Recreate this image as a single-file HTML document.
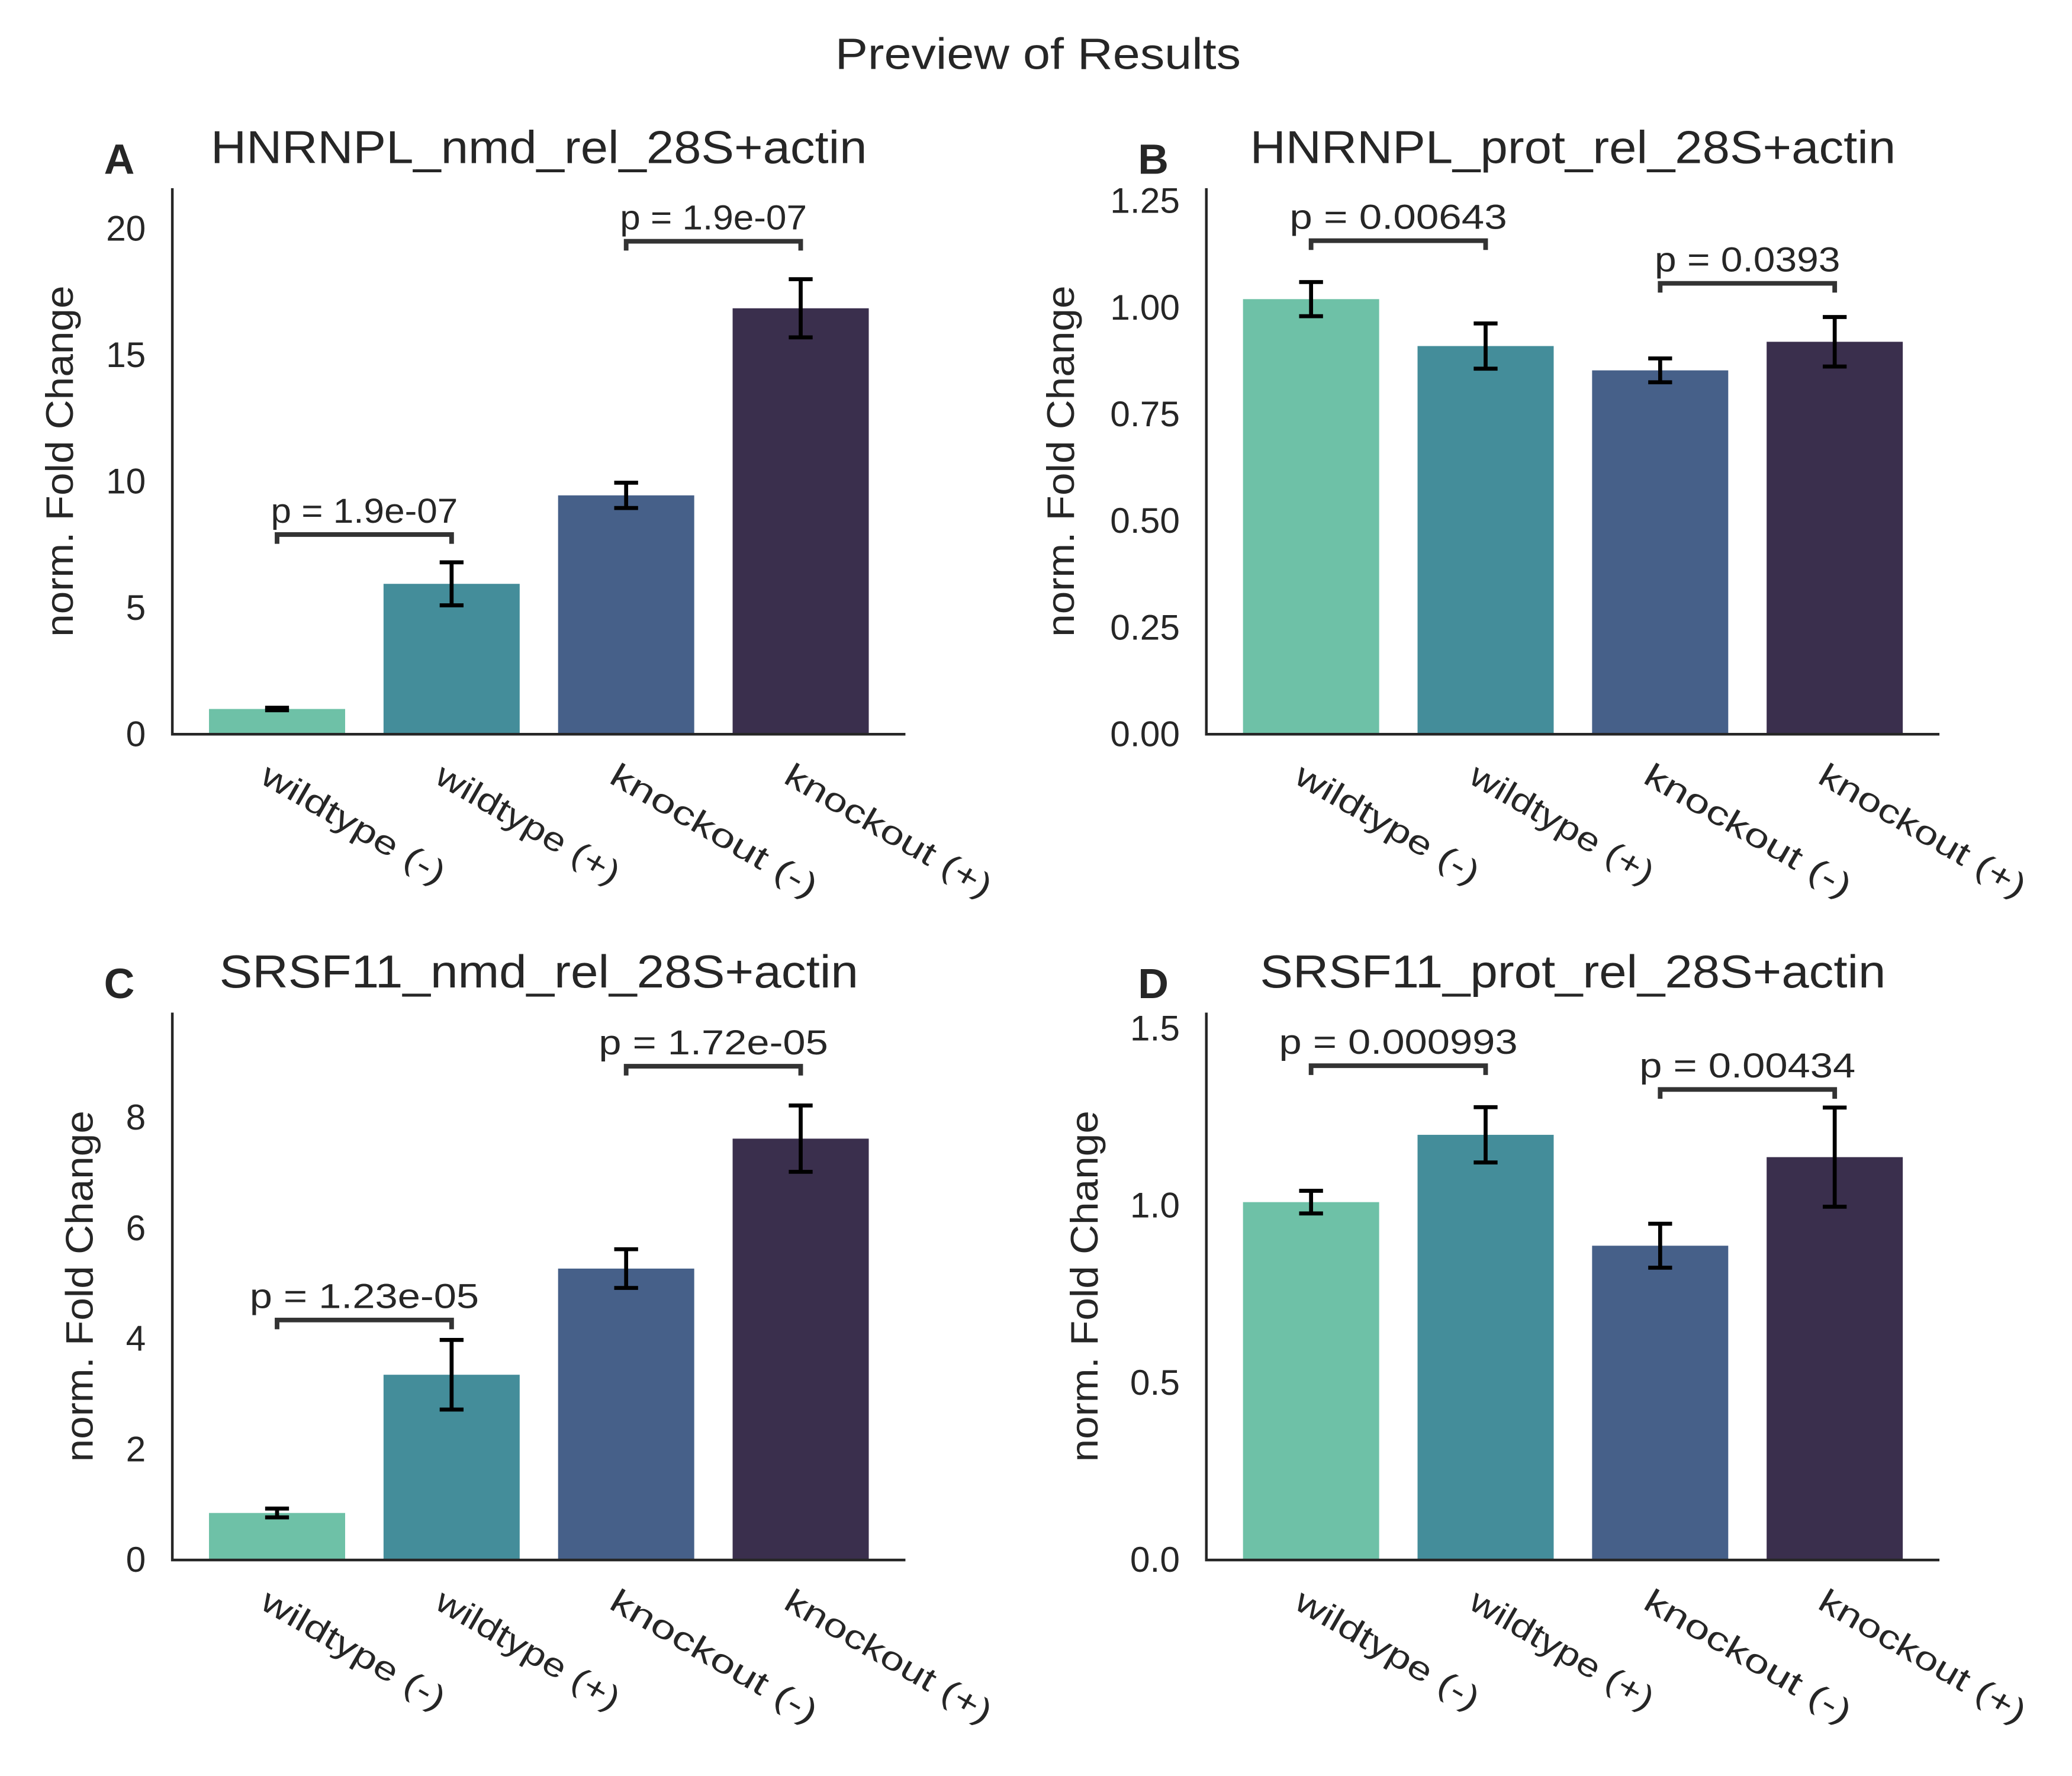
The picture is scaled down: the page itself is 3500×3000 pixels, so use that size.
<!DOCTYPE html>
<html><head><meta charset="utf-8"><style>
html,body{margin:0;padding:0;background:#fff}
svg{display:block}
text{font-family:"Liberation Sans",Arial,sans-serif;fill:#262626}
</style></head><body>
<svg id="fig" xmlns="http://www.w3.org/2000/svg" width="3500" height="3000" viewBox="0 0 1563 1340" preserveAspectRatio="none">
<rect width="1563" height="1340" fill="#fff"/>
<text x="783" y="52" text-anchor="middle" font-size="33" textLength="306" lengthAdjust="spacingAndGlyphs">Preview of Results</text>
</svg>
<script>
const categories = ["wildtype (-)", "wildtype (+)", "knockout (-)", "knockout (+)"];
const titles = ["HNRNPL_nmd_rel_28S+actin","HNRNPL_prot_rel_28S+actin","SRSF11_nmd_rel_28S+actin","SRSF11_prot_rel_28S+actin"];
const letters = ["A","B","C","D"];
const valuesA = [1.0, 5.95, 9.45, 16.85];
const errorsA = [0.05, 0.85, 0.5, 1.15];
const valuesB = [1.02, 0.91, 0.853, 0.92];
const errorsB = [0.04, 0.053, 0.028, 0.058];
const valuesC = [0.85, 3.35, 5.27, 7.62];
const errorsC = [0.08, 0.63, 0.35, 0.6];
const valuesD = [1.01, 1.2, 0.887, 1.137];
const errorsD = [0.032, 0.078, 0.062, 0.14];
const yMaxes = [21.6, 1.28, 9.9, 1.545];
const ticksA = [0,5,10,15,20];
const ticksB = [0,0.25,0.5,0.75,1.0,1.25];
const ticksC = [0,2,4,6,8];
const ticksD = [0,0.5,1.0,1.5];
const tickLabelsA = ["0","5","10","15","20"];
const tickLabelsB = ["0.00","0.25","0.50","0.75","1.00","1.25"];
const tickLabelsC = ["0","2","4","6","8"];
const tickLabelsD = ["0.0","0.5","1.0","1.5"];
const pairsA = [[0,1,7.9,"p = 1.9e-07"],[2,3,19.5,"p = 1.9e-07"]];
const pairsB = [[0,1,1.157,"p = 0.00643"],[2,3,1.057,"p = 0.0393"]];
const pairsC = [[0,1,4.34,"p = 1.23e-05"],[2,3,8.93,"p = 1.72e-05"]];
const pairsD = [[0,1,1.395,"p = 0.000993"],[2,3,1.328,"p = 0.00434"]];
const colors = ["#6ec1a7","#448d9a","#466089","#3a2f4d"];

const svg = document.getElementById('fig');
const NS = "http://www.w3.org/2000/svg";
function mk(tag, attrs, parent){const e=document.createElementNS(NS,tag);for(const k in attrs)e.setAttribute(k,attrs[k]);(parent||svg).appendChild(e);return e;}

const panels = [
 {l:130,r:683,t:142,b:554,vals:valuesA,errs:errorsA,ticks:ticksA,tl:tickLabelsA,pairs:pairsA,yo:85,tlen:495},
 {l:910,r:1463,t:142,b:554,vals:valuesB,errs:errorsB,ticks:ticksB,tl:tickLabelsB,pairs:pairsB,yo:110,tlen:487},
 {l:130,r:683,t:764,b:1177,vals:valuesC,errs:errorsC,ticks:ticksC,tl:tickLabelsC,pairs:pairsC,yo:70,tlen:482},
 {l:910,r:1463,t:764,b:1177,vals:valuesD,errs:errorsD,ticks:ticksD,tl:tickLabelsD,pairs:pairsD,yo:92,tlen:472}
];
const pLens = {"p = 1.9e-07":141,"p = 0.00643":164,"p = 0.0393":140,"p = 1.23e-05":173,"p = 1.72e-05":173,"p = 0.000993":180,"p = 0.00434":163};

panels.forEach((p,i)=>{
  const g = mk('g',{});
  
  
  const ymax = yMaxes[i];
  const ys = v => p.b - (v/ymax)*(p.b-p.t);
  const step = (p.r-p.l)/4.2;
  const xs = k => p.l + step*(k+0.6);
  const bw = step*0.78;
  const tt = mk('text',{x:(p.l+p.r)/2,y:p.t-19,'text-anchor':'middle','font-size':35,textLength:p.tlen,lengthAdjust:'spacingAndGlyphs'},g);
  tt.textContent = titles[i];
  
  
  const lt = mk('text',{x:p.l-40,y:p.t-11,'text-anchor':'middle','font-size':32,'font-weight':'bold'},g);
  lt.textContent = letters[i];
  
  
  const yl = mk('text',{x:0,y:0,'text-anchor':'middle','font-size':29,textLength:265,lengthAdjust:'spacingAndGlyphs',transform:`translate(${p.l-p.yo+10},${(p.t+p.b)/2}) rotate(-90)`},g);
  yl.textContent = "norm. Fold Change";
  
  
  p.ticks.forEach((tv,j)=>{
    const t = mk('text',{x:p.l-20,y:ys(tv)+9,'text-anchor':'end','font-size':27},g);
    t.textContent = p.tl[j];
    
    
  });
  p.vals.forEach((v,k)=>{
    const r = mk('rect',{x:xs(k)-bw/2,y:ys(v),width:bw,height:p.b-ys(v),fill:colors[k]},g);
    
    
  });
  p.vals.forEach((v,k)=>{
    const e = p.errs[k];
    const eg = mk('g',{stroke:'#000','stroke-width':3},g);
    
    
    mk('line',{x1:xs(k),x2:xs(k),y1:ys(v+e),y2:ys(v-e)},eg);
    mk('line',{x1:xs(k)-9,x2:xs(k)+9,y1:ys(v+e),y2:ys(v+e)},eg);
    mk('line',{x1:xs(k)-9,x2:xs(k)+9,y1:ys(v-e),y2:ys(v-e)},eg);
  });
  const sp = mk('path',{d:`M${p.l},${p.t} V${p.b} H${p.r}`,fill:'none',stroke:'#262626','stroke-width':2},g);
  
  
  categories.forEach((c,k)=>{
    const t = mk('text',{x:0,y:0,'font-size':25,textLength:(c.startsWith('w')?156:176),lengthAdjust:'spacingAndGlyphs',transform:`translate(${xs(k)-14},${p.b+36}) rotate(30)`},g);
    t.textContent = c;
    
    
  });
  p.pairs.forEach(pr=>{
    const y = ys(pr[2]);
    const x1 = xs(pr[0]), x2 = xs(pr[1]);
    const bp = mk('path',{d:`M${x1},${y+7} V${y} H${x2} V${y+7}`,fill:'none',stroke:'#333','stroke-width':3.5},g);
    
    
    const t = mk('text',{x:(x1+x2)/2,y:y-9,'text-anchor':'middle','font-size':26,textLength:pLens[pr[3]]||150,lengthAdjust:'spacingAndGlyphs'},g);
    t.textContent = pr[3];
    
    
  });
});
</script>
</body></html>
